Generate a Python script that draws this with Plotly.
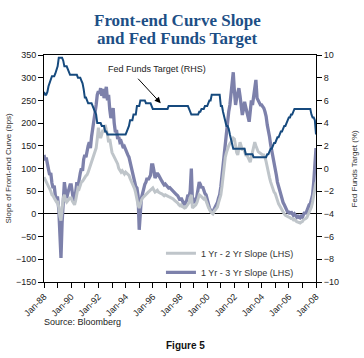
import pandas as pd
import plotly.graph_objects as go

dates = pd.date_range("1988-01-01", periods=241, freq="MS")

# 1 Yr - 3 Yr slope (bps), monthly Jan-88 .. Jan-08
slope_1_3 = [
    130, 118, 124, 105, 98, 86, 90, 68, 57, 62, 40, 35,
    35, 10, -50, -97, -20, 50, 70, 50, 35, 45, 55, 64,
    64, 45, 30, 26, 45, 70, 60, 80, 90, 100, 95, 120,
    130, 125, 140, 150, 158, 145, 170, 185, 203, 215, 240, 262,
    270, 265, 277, 260, 275, 255, 270, 280, 250, 262, 230, 211,
    220, 233, 200, 180, 185, 165, 170, 158, 160, 150, 145, 148,
    140, 135, 130, 125, 115, 100, 92, 85, 75, 60, 57, 40,
    -35, 20, 35, 45, 57, 65, 70, 79, 75, 80, 85, 108,
    108, 95, 79, 85, 90, 86, 80, 75, 72, 68, 64, 66,
    62, 60, 57, 58, 55, 52, 50, 48, 45, 42, 40, 35,
    30, 35, 28, 24, 20, 25, 30, 42, 38, 50, 100, 26,
    26, 30, 26, 40, 55, 70, 65, 57, 60, 50, 45, 42,
    30, 20, 13, 8, 4, 2, 10, 15, 20, 25, 35, 42,
    60, 85, 108, 140, 165, 190, 210, 225, 240, 260, 290, 312,
    270, 240, 255, 265, 277, 260, 240, 218, 230, 247, 235, 225,
    210, 203, 225, 250, 240, 260, 275, 295, 255, 250, 245, 240,
    240, 236, 233, 225, 215, 196, 185, 170, 152, 140, 125, 108,
    100, 85, 70, 60, 52, 42, 35, 25, 20, 15, 10, 4,
    4, 0, 5, 2, -3, 0, -5, -7, -3, -8, -9, -5,
    -7, 0, 4, 0, 8, 12, 20, 22, 30, 42, 70, 110,
    145,
]

# 1 Yr - 2 Yr slope (bps)
slope_1_2 = [
    81, 76, 72, 64, 60, 55, 50, 42, 40, 35, 30, 26,
    26, 15, -5, -15, 10, 35, 42, 30, 26, 28, 32, 35,
    35, 28, 22, 20, 30, 45, 57, 55, 65, 70, 72, 78,
    80, 84, 86, 92, 100, 105, 114, 120, 130, 140, 145, 165,
    190, 175, 167, 175, 185, 180, 196, 185, 175, 158, 165, 150,
    135, 130, 125, 120, 114, 110, 100, 95, 92, 95, 90, 88,
    92, 90, 88, 85, 78, 72, 70, 62, 55, 45, 26, 20,
    13, 25, 30, 35, 38, 40, 42, 45, 48, 50, 52, 55,
    57, 52, 48, 50, 52, 48, 46, 45, 44, 42, 40, 42,
    40, 38, 38, 37, 36, 35, 33, 30, 28, 26, 24, 20,
    18, 20, 16, 15, 13, 14, 18, 20, 25, 35, 42, 13,
    15, 18, 20, 25, 35, 42, 40, 38, 35, 33, 35, 30,
    22, 15, 9, 5, 2, 0, 5, 9, 13, 15, 25, 35,
    42, 60, 80, 108, 125, 135, 145, 150, 155, 158, 162, 167,
    165, 150, 135, 130, 145, 158, 150, 140, 145, 138, 130, 130,
    125, 120, 114, 125, 137, 145, 158, 150, 140, 137, 135, 133,
    132, 130, 130, 125, 115, 100, 90, 80, 70, 62, 55, 48,
    45, 35, 26, 22, 18, 13, 8, 2, 0, -3, -5, -7,
    -7, -8, -10, -10, -13, -12, -15, -17, -18, -20, -20, -18,
    -17, -13, -12, -10, -8, -3, 4, 8, 15, 26, 40, 55,
    70,
]

# Fed Funds target (%), month-end
fed_funds = [
    6.75, 6.5, 6.5, 6.75, 7.25, 7.5, 7.75, 8.125, 8.125, 8.125, 8.375, 8.6875,
    9.0, 9.75, 9.75, 9.75, 9.75, 9.5, 9.0, 9.0, 9.0, 8.75, 8.5, 8.25,
    8.25, 8.25, 8.25, 8.25, 8.25, 8.25, 8.0, 8.0, 8.0, 7.75, 7.5, 7.0,
    6.25, 6.25, 6.0, 5.75, 5.75, 5.75, 5.75, 5.5, 5.25, 5.0, 4.75, 4.0,
    4.0, 4.0, 4.0, 3.75, 3.75, 3.75, 3.25, 3.25, 3.0, 3.0, 3.0, 3.0,
    3.0, 3.0, 3.0, 3.0, 3.0, 3.0, 3.0, 3.0, 3.0, 3.0, 3.0, 3.0,
    3.0, 3.25, 3.5, 3.75, 4.25, 4.25, 4.25, 4.75, 4.75, 4.75, 5.5, 5.5,
    5.5, 6.0, 6.0, 6.0, 6.0, 6.0, 5.75, 5.75, 5.75, 5.75, 5.75, 5.5,
    5.25, 5.25, 5.25, 5.25, 5.25, 5.25, 5.25, 5.25, 5.25, 5.25, 5.25, 5.25,
    5.25, 5.25, 5.5, 5.5, 5.5, 5.5, 5.5, 5.5, 5.5, 5.5, 5.5, 5.5,
    5.5, 5.5, 5.5, 5.5, 5.5, 5.5, 5.5, 5.5, 5.25, 5.0, 4.75, 4.75,
    4.75, 4.75, 4.75, 4.75, 4.75, 5.0, 5.0, 5.25, 5.25, 5.25, 5.5, 5.5,
    5.5, 5.75, 6.0, 6.0, 6.5, 6.5, 6.5, 6.5, 6.5, 6.5, 6.5, 6.5,
    5.5, 5.5, 5.0, 4.5, 4.0, 3.75, 3.75, 3.5, 3.0, 2.5, 2.0, 1.75,
    1.75, 1.75, 1.75, 1.75, 1.75, 1.75, 1.75, 1.75, 1.75, 1.75, 1.25, 1.25,
    1.25, 1.25, 1.25, 1.25, 1.25, 1.0, 1.0, 1.0, 1.0, 1.0, 1.0, 1.0,
    1.0, 1.0, 1.0, 1.0, 1.0, 1.25, 1.25, 1.5, 1.75, 1.75, 2.0, 2.25,
    2.25, 2.5, 2.75, 2.75, 3.0, 3.25, 3.25, 3.5, 3.75, 3.75, 4.0, 4.25,
    4.5, 4.5, 4.75, 4.75, 5.0, 5.25, 5.25, 5.25, 5.25, 5.25, 5.25, 5.25,
    5.25, 5.25, 5.25, 5.25, 5.25, 5.25, 5.25, 5.25, 4.75, 4.5, 4.5, 4.25,
    3.0,
]

PURPLE = "#7d81ab"
GRAY = "#bfc5ca"
BLUE = "#164a7e"
FONT = "Liberation Sans, Arial, sans-serif"

fig = go.Figure()
fig.add_trace(go.Scatter(x=dates, y=slope_1_3, name="1 Yr - 3 Yr Slope (LHS)",
                         mode="lines", line=dict(color=PURPLE, width=3.3)))
fig.add_trace(go.Scatter(x=dates, y=slope_1_2, name="1 Yr - 2 Yr Slope (LHS)",
                         mode="lines", line=dict(color=GRAY, width=3)))
fig.add_trace(go.Scatter(x=dates, y=fed_funds, name="Fed Funds Target (RHS)",
                         mode="lines", line=dict(color=BLUE, width=2),
                         yaxis="y2", showlegend=False))

fig.update_layout(
    width=364, height=358,
    margin=dict(l=44, r=48, t=55, b=76, autoexpand=False),
    paper_bgcolor="white", plot_bgcolor="white",
    font=dict(family=FONT, size=9, color="#222222"),
    showlegend=True,
    legend=dict(x=0.43, y=0.19, xanchor="left", yanchor="top",
                bgcolor="rgba(0,0,0,0)", font=dict(size=9, color="#333333"),
                traceorder="reversed", itemwidth=30),
    xaxis=dict(
        type="date", range=["1988-01-01", "2008-01-01"], automargin=False,
        dtick="M24", tick0="1988-01-01", tickformat="%b-%y", tickangle=-45,
        ticks="outside", ticklen=5, tickcolor="black",
        showline=True, linecolor="black", linewidth=1, mirror=True,
        showgrid=False, zeroline=False,
        minor=dict(dtick="M12", ticks="outside", ticklen=5, tickcolor="black", showgrid=False),
        tickfont=dict(size=9),
    ),
    yaxis=dict(
        range=[-150, 350], dtick=50, ticks="outside", ticklen=5, tickcolor="black",
        showline=True, linecolor="black", linewidth=1, automargin=False,
        showgrid=False, zeroline=True, zerolinecolor="black", zerolinewidth=1,
        tickfont=dict(size=9),
    ),
    yaxis2=dict(
        range=[-10, 10], dtick=2, overlaying="y", side="right", automargin=False,
        ticks="outside", ticklen=5, tickcolor="black",
        showline=True, linecolor="black", linewidth=1,
        showgrid=False, zeroline=False, tickfont=dict(size=9),
    ),
)

annotations = [
    dict(text="<b>Front-end Curve Slope</b>", xref="paper", yref="paper",
         x=0.489, y=1 + (55 - 21) / 227, xanchor="center", yanchor="middle",
         showarrow=False, font=dict(family="Liberation Serif, serif", size=17, color="#1d4f86")),
    dict(text="<b>and Fed Funds Target</b>", xref="paper", yref="paper",
         x=0.489, y=1 + (55 - 38) / 227, xanchor="center", yanchor="middle",
         showarrow=False, font=dict(family="Liberation Serif, serif", size=17, color="#1d4f86")),
    dict(text="Slope of Front-end Curve (bps)", xref="paper", yref="paper",
         x=-(44 - 8) / 272, y=0.5, xanchor="center", yanchor="middle", textangle=-90,
         showarrow=False, font=dict(size=8, color="#333333")),
    dict(text="Fed Funds Target (%)", xref="paper", yref="paper",
         x=1 + (354 - 316) / 272, y=0.5, xanchor="center", yanchor="middle", textangle=-90,
         showarrow=False, font=dict(size=8, color="#333333")),
    dict(text="Fed Funds Target (RHS)", xref="paper", yref="paper",
         x=(106 - 44) / 272, y=1 - (69 - 55) / 227, xanchor="left", yanchor="middle",
         showarrow=False, font=dict(size=9, color="#222222")),
    dict(text="", x="1996-08-01", y=5.75, xref="x", yref="y2",
         showarrow=True, arrowhead=2, arrowsize=1.2, arrowwidth=1, arrowcolor="black",
         ax=-24, ay=-26),
    dict(text="Source: Bloomberg", xref="paper", yref="paper",
         x=(42 - 44) / 272, y=-(322 - 282) / 227, xanchor="left", yanchor="middle",
         showarrow=False, font=dict(size=9, color="#222222")),
    dict(text="<b>Figure 5</b>", xref="paper", yref="paper",
         x=(185 - 44) / 272, y=-(345 - 282) / 227, xanchor="center", yanchor="middle",
         showarrow=False, font=dict(size=10, color="#111111")),
]
fig.update_layout(annotations=annotations)

fig.write_html("out.html", config={"displayModeBar": False},
               post_script="document.body.style.margin='0';document.body.style.overflow='hidden';")
